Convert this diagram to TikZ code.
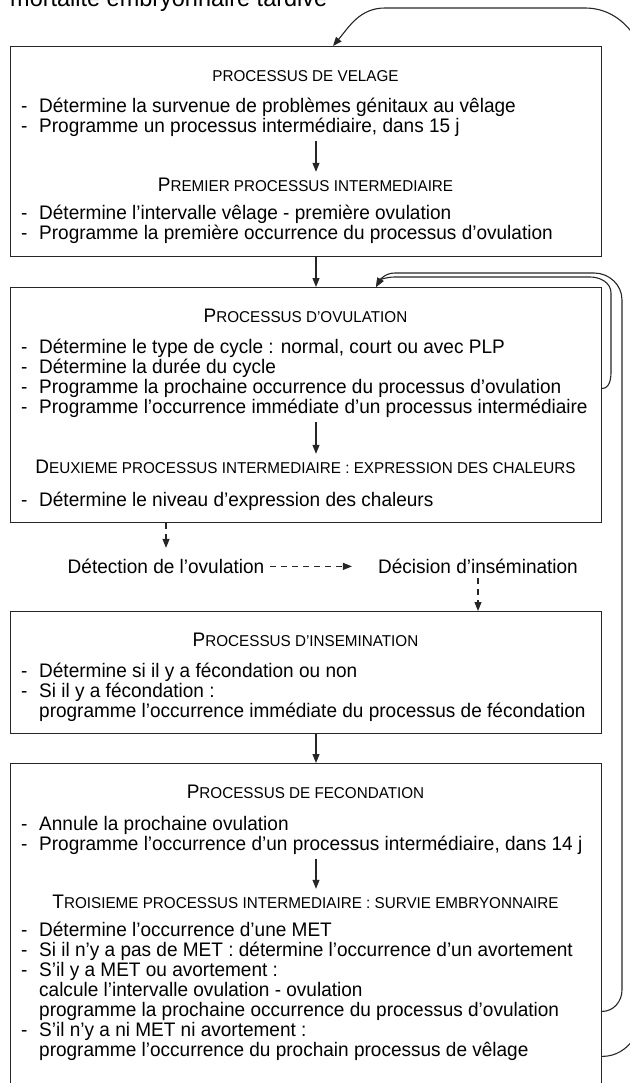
\documentclass[tikz,border=0pt]{standalone}
\usepackage{fontspec}
\setmainfont[FakeStretch=0.97]{Liberation Sans}
\usetikzlibrary{arrows.meta}

\newcommand\capsize[1]{{\fontsize{15.7}{20}\selectfont #1}}
\newcommand\ditem[1]{\makebox[18pt][l]{-}#1}
\newcommand\citem[1]{\hspace*{18pt}#1}

\begin{document}
\begin{tikzpicture}[x=1pt, y=-1pt,
    font=\fontsize{19.6}{20}\selectfont,
    every node/.style={inner sep=0pt, text=black},
    box/.style={draw=black!85, line width=1.1pt, minimum width=591pt, anchor=north west},
    entry/.style={anchor=base west},
    head/.style={anchor=base},
    arr/.style={draw=black!85, line width=1.1pt, -{Triangle[length=9pt,width=7pt]}},
    darr/.style={arr, dash pattern=on 6pt off 5pt},
    back/.style={arr},
]
\useasboundingbox (0,0) rectangle (629,1083);

% the four process boxes
\node[box, minimum height=210pt] (velage) at (10,46) {};
\node[box, minimum height=235pt] (ovulation) at (10,287) {};
\node[box, minimum height=122pt] (insemination) at (10,611) {};
\node[box, minimum height=400pt] (fecondation) at (10,763) {};

\coordinate (axis) at (316,0);
\coordinate (backA) at (333,0);
\coordinate (backB) at (376,0);

\node[anchor=base west, font=\fontsize{24.2}{26}\selectfont] (legend) at (10,7) {mortalité embryonnaire tardive};

% velage
\node[head] (velageTitle) at (305.5,81.5) {\capsize{PROCESSUS DE VELAGE}};
\foreach \n/\y/\txt in {1/112.5/{\ditem{Détermine la survenue de problèmes génitaux au vêlage}},
                        2/132.5/{\ditem{Programme un processus intermédiaire, dans 15 j}}}
  \node[entry] (velage\n) at (21,\y) {\txt};
\node[head] (premierTitle) at (305.5,191.5) {P\capsize{REMIER PROCESSUS INTERMEDIAIRE}};
\foreach \n/\y/\txt in {1/219.5/{\ditem{Détermine l’intervalle vêlage - première ovulation}},
                        2/239.5/{\ditem{Programme la première occurrence du processus d’ovulation}}}
  \node[entry] (premier\n) at (21,\y) {\txt};

% ovulation
\node[head] (ovulationTitle) at (305.5,322.5) {P\capsize{ROCESSUS D’OVULATION}};
\foreach \n/\y/\txt in {1/353.5/{\ditem{Détermine le type de cycle : normal, court ou avec PLP}},
                        2/373.5/{\ditem{Détermine la durée du cycle}},
                        3/393.5/{\ditem{Programme la prochaine occurrence du processus d’ovulation}},
                        4/413.5/{\ditem{Programme l’occurrence immédiate d’un processus intermédiaire}}}
  \node[entry] (ovulation\n) at (21,\y) {\txt};
\node[head] (deuxiemeTitle) at (305.5,473.5) {D\capsize{EUXIEME PROCESSUS INTERMEDIAIRE : EXPRESSION DES CHALEURS}};
\node[entry] (deuxieme1) at (21,506.5) {\ditem{Détermine le niveau d’expression des chaleurs}};

% detection et decision
\node[head] (detection) at (166,573.5) {Détection de l’ovulation};
\node[head] (decision) at (478,573.5) {Décision d’insémination};

% insemination
\node[head] (inseminationTitle) at (305.5,646.5) {P\capsize{ROCESSUS D’INSEMINATION}};
\foreach \n/\y/\txt in {1/677.5/{\ditem{Détermine si il y a fécondation ou non}},
                        2/697.5/{\ditem{Si il y a fécondation :}},
                        3/717.5/{\citem{programme l’occurrence immédiate du processus de fécondation}}}
  \node[entry] (insemination\n) at (21,\y) {\txt};

% fecondation
\node[head] (fecondationTitle) at (305.5,798.5) {P\capsize{ROCESSUS DE FECONDATION}};
\foreach \n/\y/\txt in {1/830.5/{\ditem{Annule la prochaine ovulation}},
                        2/850.5/{\ditem{Programme l’occurrence d’un processus intermédiaire, dans 14 j}}}
  \node[entry] (fecondation\n) at (21,\y) {\txt};
\node[head] (troisiemeTitle) at (305.5,908.5) {T\capsize{ROISIEME PROCESSUS INTERMEDIAIRE : SURVIE EMBRYONNAIRE}};
\foreach \n/\y/\txt in {1/936.5/{\ditem{Détermine l’occurrence d’une MET}},
                        2/956.5/{\ditem{Si il n’y a pas de MET : détermine l’occurrence d’un avortement}},
                        3/976.5/{\ditem{S’il y a MET ou avortement :}},
                        4/996.5/{\citem{calcule l’intervalle ovulation - ovulation}},
                        5/1016.5/{\citem{programme la prochaine occurrence du processus d’ovulation}},
                        6/1036.5/{\ditem{S’il n’y a ni MET ni avortement :}},
                        7/1056.5/{\citem{programme l’occurrence du prochain processus de vêlage}}}
  \node[entry] (troisieme\n) at (21,\y) {\txt};

% arrows
\draw[arr, shorten <=4pt, shorten >=6pt] (velage2.south -| axis) -- (premierTitle.north -| axis);
\draw[arr] (velage.south -| axis) -- (ovulation.north -| axis);
\draw[arr, shorten <=4pt, shorten >=6pt] (ovulation4.south -| axis) -- (deuxiemeTitle.north -| axis);
\draw[darr, shorten >=11pt] (ovulation.south -| detection) -- (detection.north);
\draw[darr, shorten <=6pt, shorten >=26pt] (detection.east) -- (decision.west);
\draw[darr, shorten <=4pt] (decision.south) -- (insemination.north -| decision);
\draw[arr] (insemination.south -| axis) -- (fecondation.north -| axis);
\draw[arr, shorten <=4pt, shorten >=6pt] (fecondation2.south -| axis) -- (troisiemeTitle.north -| axis);

% loops back
\draw[back] (ovulation.east |- ovulation3) to[out=0,in=-90] (611,372) -- (611,293)
  to[out=90,in=0] (590,277) -- (395,277) to[out=180,in=60] (ovulation.north -| backB);
\draw[back] (fecondation.east |- troisieme5) to[out=0,in=-90] (622,990) -- (622,300)
  to[out=90,in=0] (594,273) -- (395,273) to[out=180,in=60] (ovulation.north -| backB);
\draw[back] ([yshift=-5pt]fecondation.east |- troisieme7) to[out=0,in=-90] (645,1000) -- (650,90)
  to[out=90,in=0] (585,8) -- (385,8) to[out=180,in=50] (velage.north -| backA);
\end{tikzpicture}
\end{document}
